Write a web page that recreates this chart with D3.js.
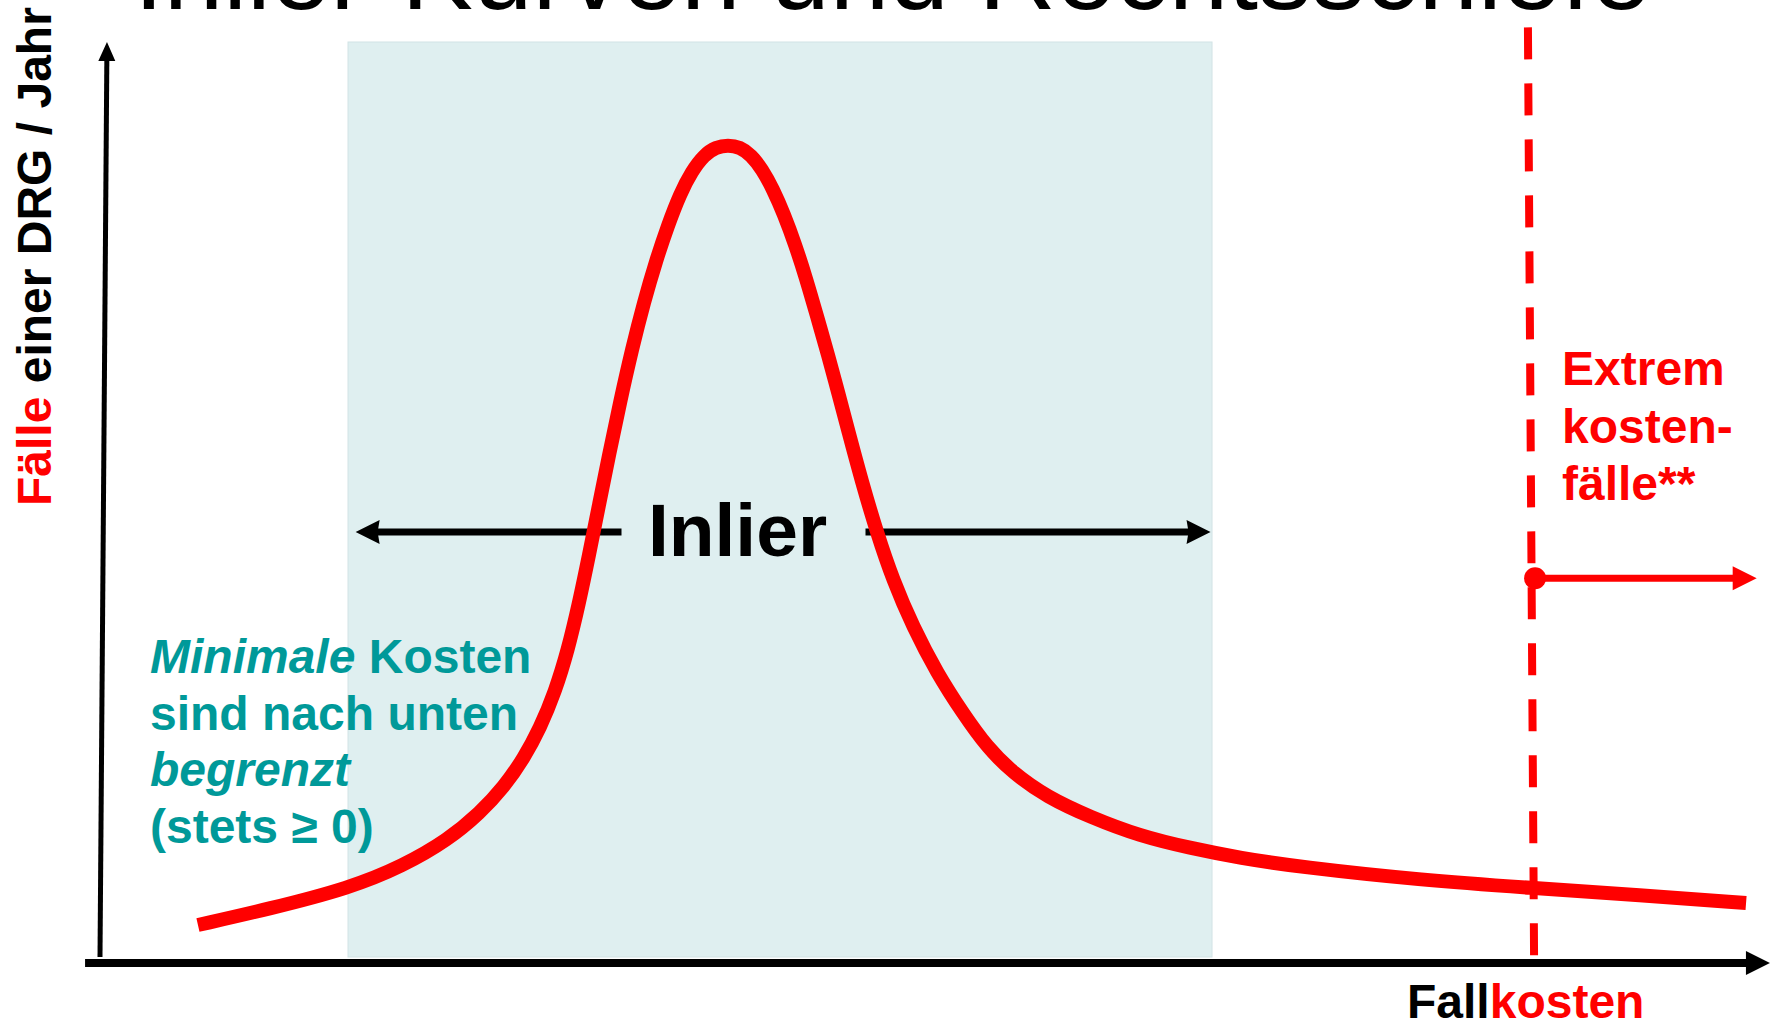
<!DOCTYPE html>
<html><head><meta charset="utf-8">
<script src="https://cdn.jsdelivr.net/npm/d3@7"></script>
<style>
body{margin:0;background:#fff;}
svg{display:block;}
text{font-family:"Liberation Sans", Arial, Helvetica, sans-serif;}
</style>
</head><body>
<svg id="c" width="1779" height="1024"></svg>
<script>
// ---------- data (x = Fallkosten, y = Fälle einer DRG / Jahr, arbitrary units 0..100) ----------
const costs = [5.90,10.18,15.06,18.25,20.96,22.89,24.34,25.54,26.51,27.41,28.19,28.86,29.46,30.06,30.66,31.33,32.05,32.77,33.49,34.22,34.94,35.66,36.39,37.11,37.83,38.55,39.22,39.88,40.54,41.20,41.87,42.53,43.19,43.86,44.46,45.06,45.90,46.81,47.77,48.98,50.42,52.01,53.43,55.00,57.05,59.64,62.65,65.66,68.67,72.29,79.52,86.20,92.77,99.16];
const cases = [3.50,5.25,7.54,9.95,12.79,15.74,18.58,21.75,25.03,28.96,33.55,38.69,43.93,49.40,54.86,60.66,66.45,71.58,76.07,80.00,83.39,85.90,87.65,88.52,88.74,88.52,87.65,86.12,83.93,81.20,77.92,74.21,70.05,65.79,61.75,57.60,51.91,46.34,41.20,36.07,31.04,26.56,22.95,20.11,17.49,15.30,13.22,11.91,10.82,9.84,8.42,7.54,6.78,5.90];
const inlierBand = [14.94, 66.99];
const inlierArrow = [15.4, 66.9];
const inlierLevel = 46.45;
const extremeThresholdX = [86.02, 86.39];   // top, bottom
const extremeThresholdY = [101.6, 0];
const extremeLevel = 41.4;
const extremeArrowEnd = 99.8;
const xAxisSpan = [-0.9, 100.6];
const xAxisLevel = -0.66;
const yAxisX = [0, 0.42];
const yAxisSpan = [0, 100];

const titleText = "Inlier-Kurven und Rechtsschiefe";
const yLabelParts = [["Fälle", "#ff0000"], [" einer DRG / Jahr", "#000000"]];
const xLabelParts = [["Fall", "#000000"], ["kosten", "#ff0000"]];
const inlierLabel = "Inlier";
const minCostLines = [[["Minimale", true], [" Kosten", false]], [["sind nach unten", false]], [["begrenzt", true]], [["(stets ≥ 0)", false]]];
const extremeLines = ["Extrem", "kosten-", "fälle**"];

// ---------- scales ----------
const x = d3.scaleLinear().domain([0, 100]).range([100, 1760]);
const y = d3.scaleLinear().domain([0, 100]).range([957, 42]);

const svg = d3.select("#c");
const RED = "#ff0000", TEAL = "#009999";
const FS = 48;

// title (cut off at top)
svg.append("text").attr("x", 134).attr("y", 9)
  .attr("font-size", 107).attr("fill", "#000").text(titleText);

// inlier band
svg.append("rect")
  .attr("x", x(inlierBand[0])).attr("y", y(100))
  .attr("width", x(inlierBand[1]) - x(inlierBand[0]))
  .attr("height", y(0) - y(100))
  .attr("fill", "#dfeff0").attr("stroke", "#d2e3e5").attr("stroke-width", 1);

// arrowhead helper
function arrowHead(tipX, tipY, dir, len, half, notch) {
  const c = Math.cos(dir), s = Math.sin(dir);
  const bx = tipX - c * len, by = tipY - s * len;
  const nx = tipX - c * (len - notch), ny = tipY - s * (len - notch);
  const p1 = [bx - s * half, by + c * half], p2 = [bx + s * half, by - c * half];
  return `M${tipX},${tipY}L${p1[0]},${p1[1]}L${nx},${ny}L${p2[0]},${p2[1]}Z`;
}

// y axis (slightly tilted)
const yb = [x(yAxisX[0]), y(yAxisSpan[0])], yt = [x(yAxisX[1]), y(yAxisSpan[1])];
const yAng = Math.atan2(yt[1] - yb[1], yt[0] - yb[0]);
svg.append("line").attr("x1", yb[0]).attr("y1", yb[1])
  .attr("x2", yt[0] - Math.cos(yAng) * 16).attr("y2", yt[1] - Math.sin(yAng) * 16)
  .attr("stroke", "#000").attr("stroke-width", 5);
svg.append("path").attr("d", arrowHead(yt[0], yt[1], yAng, 19, 8.5, 0)).attr("fill", "#000");

// x axis
const xa0 = x(xAxisSpan[0]), xa1 = x(xAxisSpan[1]), xay = y(xAxisLevel);
svg.append("line").attr("x1", xa0).attr("y1", xay).attr("x2", xa1 - 20).attr("y2", xay)
  .attr("stroke", "#000").attr("stroke-width", 8);
svg.append("path").attr("d", arrowHead(xa1, xay, 0, 24, 12, 0)).attr("fill", "#000");

// extreme cost threshold (dashed)
svg.append("line")
  .attr("x1", x(extremeThresholdX[0])).attr("y1", y(extremeThresholdY[0]))
  .attr("x2", x(extremeThresholdX[1])).attr("y2", y(extremeThresholdY[1]))
  .attr("stroke", RED).attr("stroke-width", 8).attr("stroke-dasharray", "32,24");

// inlier double arrow + label
const iy = y(inlierLevel);
const labelX = 737.5;
svg.append("line").attr("x1", x(inlierArrow[0]) + 18).attr("y1", iy).attr("x2", labelX - 116).attr("y2", iy)
  .attr("stroke", "#000").attr("stroke-width", 7);
svg.append("line").attr("x1", labelX + 128).attr("y1", iy).attr("x2", x(inlierArrow[1]) - 18).attr("y2", iy)
  .attr("stroke", "#000").attr("stroke-width", 7);
svg.append("path").attr("d", arrowHead(x(inlierArrow[0]), iy, Math.PI, 24, 12, 2)).attr("fill", "#000");
svg.append("path").attr("d", arrowHead(x(inlierArrow[1]), iy, 0, 24, 12, 2)).attr("fill", "#000");
svg.append("text").attr("x", labelX).attr("y", 556).attr("text-anchor", "middle")
  .attr("font-size", 75).attr("font-weight", "bold").attr("fill", "#000").text(inlierLabel);

// cost curve
const pts = costs.map((c, i) => [c, cases[i]]);
const line = d3.line().x(d => x(d[0])).y(d => y(d[1])).curve(d3.curveBasis);
svg.append("path").attr("d", line(pts)).attr("fill", "none")
  .attr("stroke", RED).attr("stroke-width", 14).attr("stroke-linecap", "butt").attr("stroke-linejoin", "round");

// extreme cost marker arrow
const ex = x(extremeThresholdX[1] + 0.06), ey = y(extremeLevel), exEnd = x(extremeArrowEnd);
svg.append("line").attr("x1", ex).attr("y1", ey).attr("x2", exEnd - 20).attr("y2", ey)
  .attr("stroke", RED).attr("stroke-width", 7);
svg.append("path").attr("d", arrowHead(exEnd, ey, 0, 24, 12, 0)).attr("fill", RED);
svg.append("circle").attr("cx", ex).attr("cy", ey).attr("r", 11).attr("fill", RED);

// y label
const yl = svg.append("text").attr("transform", "translate(51,506) rotate(-90)")
  .attr("font-size", FS).attr("font-weight", "bold");
yLabelParts.forEach(p => yl.append("tspan").attr("fill", p[1]).text(p[0]));

// x label
const xl = svg.append("text").attr("x", 1407).attr("y", 1018)
  .attr("font-size", FS).attr("font-weight", "bold");
xLabelParts.forEach(p => xl.append("tspan").attr("fill", p[1]).text(p[0]));

// minimal cost note
minCostLines.forEach((ln, i) => {
  const t = svg.append("text").attr("x", 150).attr("y", 673 + i * 56.7)
    .attr("font-size", FS).attr("font-weight", "bold").attr("fill", TEAL);
  ln.forEach(p => t.append("tspan").attr("font-style", p[1] ? "italic" : "normal").text(p[0]));
});

// extreme cost note
extremeLines.forEach((s, i) => {
  svg.append("text").attr("x", 1562).attr("y", 385 + i * 57.5)
    .attr("font-size", FS).attr("font-weight", "bold").attr("fill", RED).text(s);
});
</script>
</body></html>
